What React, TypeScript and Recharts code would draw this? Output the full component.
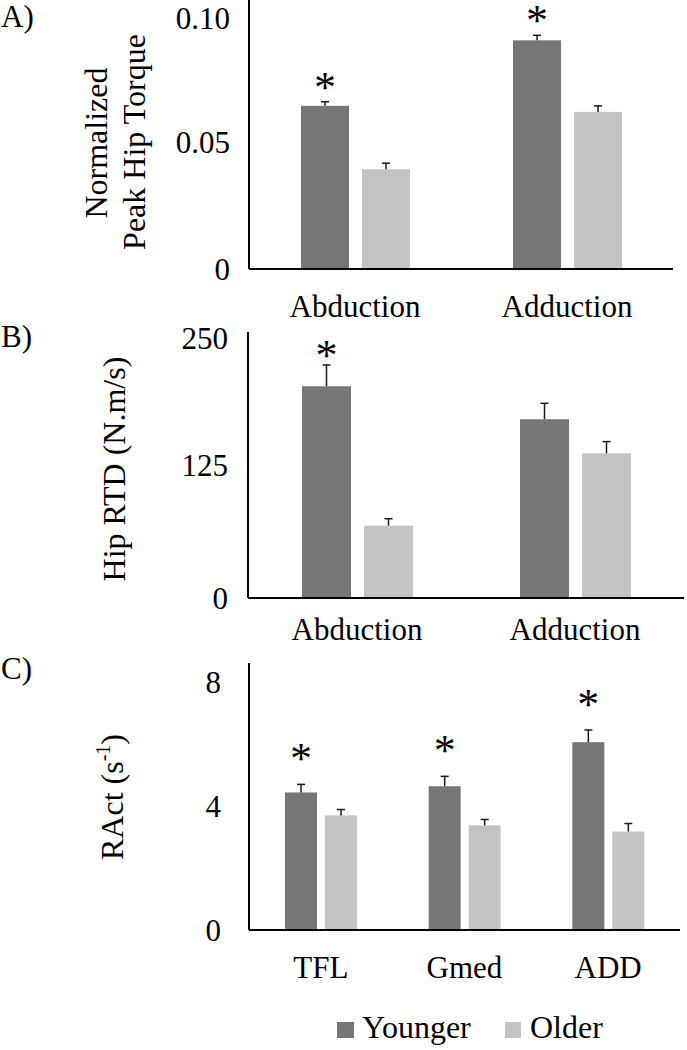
import React from 'react';
import { BarChart, Bar, XAxis, YAxis } from 'recharts';

const SERIF = '"Liberation Serif", "Times New Roman", Times, serif';
const DARK = '#767676';
const LIGHT = '#c3c3c3';
const ERR = '#1a1a1a';

// Panel A: normalized peak hip torque
const torqueCategories = ['Abduction', 'Adduction'];
const torqueYounger = [0.0643, 0.0901];
const torqueYoungerErr = [0.0016, 0.002];
const torqueOlder = [0.0393, 0.0619];
const torqueOlderErr = [0.0024, 0.0024];
const torqueSig = [true, true];
const torqueTicks = [0, 0.05, 0.1];
const torqueTickLabels = ['0', '0.05', '0.10'];

// Panel B: hip RTD
const rtdCategories = ['Abduction', 'Adduction'];
const rtdYounger = [199, 168];
const rtdYoungerErr = [20, 15];
const rtdOlder = [68, 136];
const rtdOlderErr = [6.5, 11];
const rtdSig = [true, false];
const rtdTicks = [0, 125, 250];

// Panel C: RAct
const ractCategories = ['TFL', 'Gmed', 'ADD'];
const ractYounger = [4.43, 4.63, 6.05];
const ractYoungerErr = [0.26, 0.32, 0.39];
const ractOlder = [3.69, 3.37, 3.17];
const ractOlderErr = [0.19, 0.19, 0.26];
const ractSig = [true, true, true];
const ractTicks = [0, 4, 8];

const seriesNames = ['Younger', 'Older'];

function build(cats: string[], y: number[], ye: number[], o: number[], oe: number[], sig: boolean[]) {
  return cats.map((c, i) => ({
    name: c,
    younger: y[i],
    youngerErr: ye[i],
    older: o[i],
    olderErr: oe[i],
    sig: sig[i],
  }));
}

const torqueData = build(torqueCategories, torqueYounger, torqueYoungerErr, torqueOlder, torqueOlderErr, torqueSig);
const rtdData = build(rtdCategories, rtdYounger, rtdYoungerErr, rtdOlder, rtdOlderErr, rtdSig);
const ractData = build(ractCategories, ractYounger, ractYoungerErr, ractOlder, ractOlderErr, ractSig);

const STAR_SIZE = 44;

function makeShape(valueKey: string, errKey: string, showSig: boolean, starOffset: number) {
  return (props: any) => {
    const { x, y, width, height, fill, payload } = props;
    const value = payload[valueKey];
    const ppu = value ? height / value : 0;
    const top = y - payload[errKey] * ppu;
    const cx = x + width / 2;
    return (
      <g>
        <rect x={x} y={y} width={width} height={height} fill={fill} />
        <line x1={cx} x2={cx} y1={y} y2={top} stroke={ERR} strokeWidth={1.5} />
        <line x1={cx - 4} x2={cx + 4} y1={top} y2={top} stroke={ERR} strokeWidth={1.5} />
        {showSig && payload.sig ? (
          <text
            x={cx}
            y={top - starOffset + 0.52 * STAR_SIZE}
            textAnchor="middle"
            fontSize={STAR_SIZE}
            fontFamily={SERIF}
            fill="#000"
          >
            *
          </text>
        ) : null}
      </g>
    );
  };
}

type PanelProps = {
  data: any[];
  top: number;
  height: number;
  margin: { top: number; right: number; left: number; bottom: number };
  yWidth: number;
  yDomain: [number, number];
  yTicks: number[];
  tickFmt?: (v: number, i: number) => string;
  yTickMargin: number;
  xTickMargin: number;
  xHeight: number;
  barSize: number;
  barGap: number;
  starOffset: number;
};

function Panel(p: PanelProps) {
  const tickStyle = { fill: '#000', fontSize: 31, fontFamily: SERIF };
  return (
    <div style={{ position: 'absolute', left: 0, top: p.top, width: 687, height: p.height }}>
      <BarChart width={687} height={p.height} data={p.data} margin={p.margin} barSize={p.barSize} barGap={p.barGap}>
        <XAxis
          dataKey="name"
          axisLine={{ stroke: '#000', strokeWidth: 2 }}
          tickLine={false}
          tickSize={0}
          tickMargin={p.xTickMargin}
          tick={tickStyle}
          interval={0}
          height={p.xHeight}
        />
        <YAxis
          domain={p.yDomain}
          ticks={p.yTicks}
          allowDataOverflow
          axisLine={{ stroke: '#000', strokeWidth: 2 }}
          tickLine={false}
          tickSize={0}
          tickMargin={p.yTickMargin}
          tick={tickStyle}
          width={p.yWidth}
          tickFormatter={p.tickFmt}
        />
        <Bar
          dataKey="younger"
          name={seriesNames[0]}
          fill={DARK}
          isAnimationActive={false}
          shape={makeShape('younger', 'youngerErr', true, p.starOffset)}
        />
        <Bar
          dataKey="older"
          name={seriesNames[1]}
          fill={LIGHT}
          isAnimationActive={false}
          shape={makeShape('older', 'olderErr', false, p.starOffset)}
        />
      </BarChart>
    </div>
  );
}

export default function App() {
  const titleStyle = { fontSize: 32, fontFamily: SERIF, fill: '#000' } as const;
  return (
    <div style={{ position: 'absolute', left: 0, top: 0, width: 687, height: 1050, background: '#fff', overflow: 'hidden' }}>
      <Panel
        data={torqueData}
        top={0}
        height={340}
        margin={{ top: 0, right: 14, left: 0, bottom: 21 }}
        yWidth={249}
        yDomain={[0, 0.106]}
        yTicks={torqueTicks}
        tickFmt={(v: number) => torqueTickLabels[torqueTicks.indexOf(v)] ?? String(v)}
        yTickMargin={19}
        xTickMargin={26}
        xHeight={50}
        barSize={48}
        barGap={13}
        starOffset={23}
      />
      <Panel
        data={rtdData}
        top={320}
        height={330}
        margin={{ top: 12, right: 3, left: 0, bottom: 2 }}
        yWidth={248}
        yDomain={[0, 250]}
        yTicks={rtdTicks}
        yTickMargin={20}
        xTickMargin={20}
        xHeight={50}
        barSize={49}
        barGap={13}
        starOffset={18}
      />
      <Panel
        data={ractData}
        top={640}
        height={410}
        margin={{ top: 23, right: 7, left: 0, bottom: 60 }}
        yWidth={249}
        yDomain={[0, 8.6]}
        yTicks={ractTicks}
        yTickMargin={28}
        xTickMargin={26}
        xHeight={60}
        barSize={32}
        barGap={8}
        starOffset={34}
      />
      <svg width={687} height={1050} style={{ position: 'absolute', left: 0, top: 0, pointerEvents: 'none' }}>
        <text x={1} y={27} fontSize={31} fontFamily={SERIF} fill="#000">A)</text>
        <text x={1} y={347} fontSize={31} fontFamily={SERIF} fill="#000">B)</text>
        <text x={1} y={679} fontSize={31} fontFamily={SERIF} fill="#000">C)</text>

        <text x={107} y={143} textAnchor="middle" transform="rotate(-90 107 143)" {...titleStyle}>Normalized</text>
        <text x={145} y={142} textAnchor="middle" transform="rotate(-90 145 142)" {...titleStyle}>Peak Hip Torque</text>
        <text x={125} y={469} textAnchor="middle" transform="rotate(-90 125 469)" {...titleStyle}>Hip RTD (N.m/s)</text>
        <text x={123} y={797} textAnchor="middle" transform="rotate(-90 123 797)" {...titleStyle}>
          RAct (s<tspan fontSize={20} dy={-13}>-1</tspan><tspan dy={13}>)</tspan>
        </text>

        <rect x={337} y={1022} width={17} height={16} fill={DARK} />
        <text x={362} y={1038} fontSize={32} fontFamily={SERIF} fill="#000">{seriesNames[0]}</text>
        <rect x={505} y={1022} width={16} height={16} fill={LIGHT} />
        <text x={530} y={1038} fontSize={32} fontFamily={SERIF} fill="#000">{seriesNames[1]}</text>
      </svg>
    </div>
  );
}
